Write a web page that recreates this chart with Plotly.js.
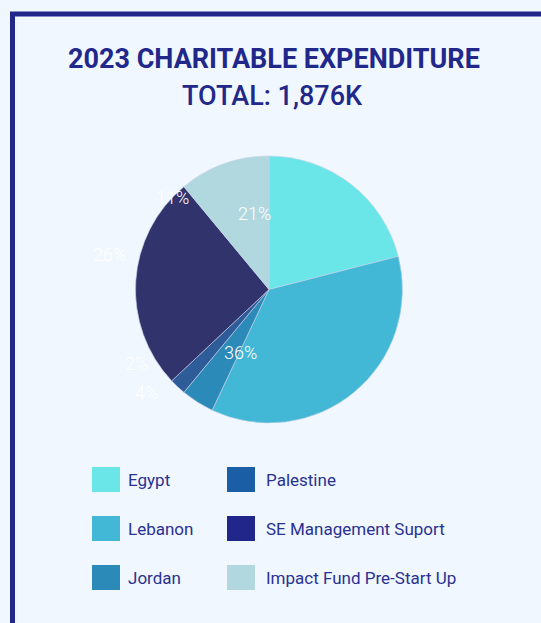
<!DOCTYPE html>
<html>
<head>
<meta charset="utf-8">
<script src="https://cdn.plot.ly/plotly-3.0.1.min.js"></script>
<style>
html,body{margin:0;padding:0;background:#f0f7ff;}
#chart{width:541px;height:623px;}
</style>
</head>
<body>
<div id="chart"></div>
<script>
// ---- data ----
var categories = ["Egypt", "Lebanon", "Jordan", "Palestine", "SE Management Suport", "Impact Fund Pre-Start Up"];
var shares = [21, 36, 4, 2, 26, 11];
var sliceColors = ["#6ae6e8", "#42b8d6", "#2c8ab8", "#2d5c98", "#31346c", "#b1d8df"];
var legendColors = ["#6ae6e8", "#42b8d6", "#2c8ab8", "#1a5ea6", "#21268a", "#b1d8df"];
var titleLine1 = "2023 CHARITABLE EXPENDITURE";
var titleLine2 = "TOTAL: 1,876K";

// label placement (pixels in the 541x623 frame), same order as categories
var labelPos = [[254, 213], [240, 352], [146, 392], [136, 363], [109, 255], [172, 197]];

var W = 541, H = 623;
function px(x) { return x / W; }
function py(y) { return 1 - y / H; }

var total = shares.reduce(function (a, b) { return a + b; }, 0);

var annotations = [];
// title lines
annotations.push({
  xref: 'paper', yref: 'paper', x: px(274), y: py(59),
  xanchor: 'center', yanchor: 'middle', showarrow: false,
  text: '<b>' + titleLine1 + '</b>',
  font: {family: 'Roboto', size: 27, color: '#22288a'}
});
annotations.push({
  xref: 'paper', yref: 'paper', x: px(272), y: py(96),
  xanchor: 'center', yanchor: 'middle', showarrow: false,
  text: titleLine2,
  font: {family: 'Roboto', size: 27, color: '#22288a', weight: 500}
});
// percent labels
for (var i = 0; i < categories.length; i++) {
  annotations.push({
    xref: 'paper', yref: 'paper',
    x: px(labelPos[i][0]), y: py(labelPos[i][1]),
    xanchor: 'center', yanchor: 'middle',
    text: Math.round(shares[i] / total * 100) + '%',
    showarrow: false,
    font: {family: 'Roboto', size: 18, color: '#ffffff', weight: 300}
  });
}

// legend (two columns, three rows)
var shapes = [];
var colX = [92, 227], textX = [126, 264], rowY = [467, 516, 565];
for (var j = 0; j < categories.length; j++) {
  var c = Math.floor(j / 3), r = j % 3;
  shapes.push({
    type: 'rect', xref: 'paper', yref: 'paper',
    x0: px(colX[c]), x1: px(colX[c] + 28),
    y0: py(rowY[r]), y1: py(rowY[r] + 25),
    fillcolor: legendColors[j], line: {width: 0}
  });
  annotations.push({
    xref: 'paper', yref: 'paper',
    x: px(textX[c]), y: py(rowY[r] + 12.5),
    xanchor: 'left', yanchor: 'middle',
    text: categories[j], showarrow: false,
    font: {family: 'Roboto', size: 17, color: '#2a3190'}
  });
}

// frame border (left and top)
shapes.push({
  type: 'path', xref: 'paper', yref: 'paper',
  path: 'M ' + px(12.5) + ' ' + py(640) + ' L ' + px(12.5) + ' ' + py(14) + ' L ' + px(560) + ' ' + py(14),
  line: {color: '#22288a', width: 5}
});

var trace = {
  type: 'pie',
  labels: categories,
  values: shares,
  sort: false,
  direction: 'clockwise',
  rotation: 0,
  textinfo: 'none',
  hoverinfo: 'label+percent',
  marker: {colors: sliceColors, line: {color: '#c9d3ea', width: 0.6}},
  domain: {x: [px(135), px(403)], y: [py(423), py(156)]},
  showlegend: false
};

var layout = {
  width: W, height: H,
  margin: {l: 0, r: 0, t: 0, b: 0},
  paper_bgcolor: '#f0f7ff',
  plot_bgcolor: '#f0f7ff',
  showlegend: false,
  annotations: annotations,
  shapes: shapes
};

Plotly.newPlot('chart', [trace], layout, {displayModeBar: false, staticPlot: true});
</script>
</body>
</html>
